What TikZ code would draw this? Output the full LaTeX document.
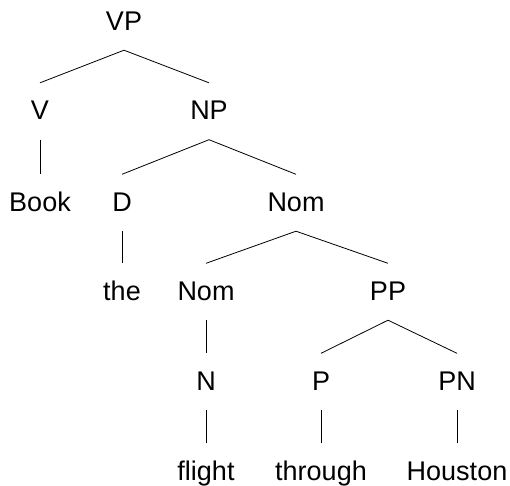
\documentclass[tikz,border=0pt]{standalone}
\usepackage{fontspec}
\setmainfont{Liberation Sans}
\begin{document}
\begin{tikzpicture}[x=1pt,y=1pt,
  lab/.style={anchor=base, inner sep=0pt, text height=19.5pt, text depth=0pt, font=\fontsize{27}{32}\selectfont},
  edge/.style={line width=0.8pt, black}]
\useasboundingbox (0,0) rectangle (510,-485);
\node[lab] (vp) at (124,-30) {VP};
\node[lab] (v) at (40,-119.5) {V};
\node[lab] (np) at (209,-119.5) {NP};
\node[lab] (book) at (40,-211) {Book};
\node[lab] (d) at (122,-211) {D};
\node[lab] (nom1) at (296,-211) {Nom};
\node[lab] (the) at (122,-300) {the};
\node[lab] (nom2) at (206,-300) {Nom};
\node[lab] (pp) at (388,-300) {PP};
\node[lab] (n) at (206,-390) {N};
\node[lab] (p) at (321,-390) {P};
\node[lab] (pn) at (457,-390) {PN};
\node[lab] (flight) at (206,-480) {flight};
\node[lab] (through) at (321,-480) {through};
\node[lab] (houston) at (457,-480) {Houston};
\foreach \a/\b in {vp/v, vp/np, v/book, np/d, np/nom1, d/the, nom1/nom2, nom1/pp, nom2/n, pp/p, pp/pn, n/flight, p/through, pn/houston}
  \draw[edge] ([yshift=-20pt]\a.south) -- ([yshift=17pt]\b.north);
\end{tikzpicture}
\end{document}
